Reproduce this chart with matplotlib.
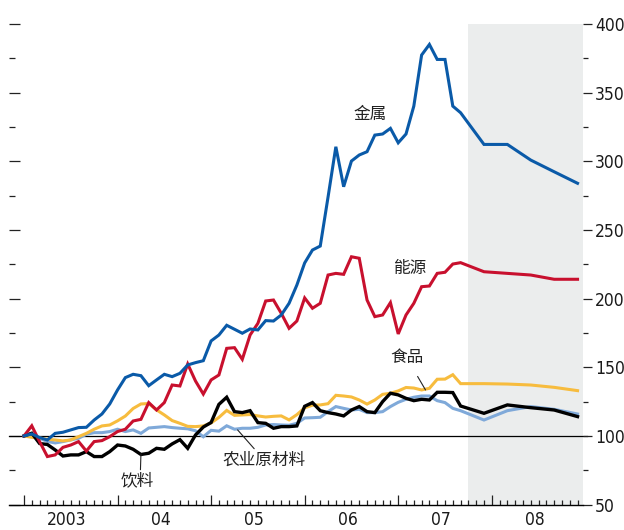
import matplotlib
matplotlib.use("Agg")
import matplotlib.pyplot as plt
from matplotlib import font_manager

# Commodity price indices, January 2003 = 100 (monthly actuals, then quarterly forecasts)
start_month = "2003-01"
forecast_start = "2007-10"
forecast_dates = ["2007-12", "2008-03", "2008-06", "2008-09", "2008-12"]

metals = [100, 101.5, 98.8, 97.1, 101.9, 102.7, 104.4, 106.1, 106.3, 111.6,
          116, 123.3, 133.5, 142.5, 144.9, 143.9, 136.6, 140.8, 144.9, 143.2,
          145.6, 151.7, 153.4, 154.8, 169.2, 173.5, 180.6, 177.7, 174.8, 177.9,
          177.2, 184, 183.7, 188.1, 196.6, 209.9, 226, 235.4, 238.3, 274,
          310.6, 281.5, 300.2, 304.6, 307, 319.1, 319.9, 324, 313.5, 319.9,
          340.2, 377.4, 385.1, 374.2, 374.2, 340.2, 335.4]
metals_fc = [312.3, 312.3, 300.9, 292.4, 284]

energy = [100, 107.4, 95.9, 85, 86.2, 91.7, 93.4, 95.9, 89, 95.9,
          96.6, 99.5, 103.2, 104.9, 110.9, 112.1, 124.3, 118.9, 124.3, 137.1,
          136.4, 152.4, 140, 130.5, 140.8, 144.4, 163.8, 164.3, 155.8, 173.5,
          182, 198.3, 199, 189.3, 178.4, 183.7, 200.5, 193, 196.6, 217.2,
          218.4, 217.7, 230.5, 229.4, 199, 186.9, 188.1, 197.1, 174.3, 188.1,
          196.6, 208.7, 209.2, 218.4, 219.2, 225.2, 226.2]
energy_fc = [219.6, 218.4, 217.2, 214.1, 214.1]

food = [100, 99, 98.5, 97.6, 97.1, 96.4, 97.1, 99.5, 101.9, 104.9,
        107.3, 108, 111, 114.5, 120, 123.3, 123.6, 119, 115.3, 111.2,
        109.2, 107, 106.8, 107.3, 109.5, 113.5, 118.6, 115, 115.3, 115.6,
        114.6, 113.8, 114.3, 114.6, 111.7, 115.5, 120.5, 122.4, 122.6, 123.5,
        129.6, 129.1, 128.4, 126.2, 123.2, 126.2, 130.3, 131.1, 132.8, 135.3,
        134.9, 133.5, 134.7, 141.3, 141.4, 144.6, 138.1]
food_fc = [138.1, 137.8, 137.1, 135.4, 133]

agri = [100, 100.7, 98.3, 96, 94.9, 95.9, 97.1, 98.3, 101.2, 102.4,
        102.4, 103.2, 104.9, 103.2, 104.4, 101.9, 105.8, 106.3, 106.8, 106.1,
        105.6, 105.2, 103.8, 99.4, 104.1, 103.5, 107.4, 104.9, 105.6, 105.6,
        106.3, 108, 108.3, 108, 107.8, 109.2, 113.1, 113.3, 113.6, 117.7,
        121.4, 120.1, 118.9, 119.4, 117, 117, 117.7, 121.4, 124.5, 126.7,
        128.2, 129.1, 129.1, 125.7, 124.3, 120.1, 118.4]
agri_fc = [111.6, 118.4, 121.4, 119.4, 116]

beverages = [100, 102, 94.5, 93.8, 89.8, 85.4, 86.2, 86.2, 88.6, 85,
             85, 88.6, 93.4, 92.7, 90.3, 86.5, 87.4, 91, 90.3, 94.2,
             97.3, 91, 100.7, 106.5, 109.8, 123, 128.2, 117.7, 117, 118.4,
             109.7, 109.2, 105.6, 106.8, 106.8, 107.3, 121.6, 124.3, 118.4, 117,
             116, 114.6, 118.9, 121.4, 117.7, 117, 125, 131.1, 129.9, 127.4,
             125.7, 126.7, 126.2, 131.8, 131.8, 131.6, 121.8]
beverages_fc = [116.5, 122.6, 120.6, 118.9, 114.1]

year_labels = ["2003", "04", "05", "06", "07", "08"]


def month_index(s):
    """Months since January 2003 for a 'YYYY-MM' string."""
    y, m = s.split("-")
    y0, m0 = start_month.split("-")
    return (int(y) - int(y0)) * 12 + int(m) - int(m0)


# numbers in a narrow face if one is installed
num_prop = font_manager.FontProperties(family="Liberation Sans", size=11.5)
for f in font_manager.fontManager.ttflist:
    if f.stretch in ("condensed", "semi-condensed") and f.style == "normal" \
            and f.weight in (400, "normal", "regular") and "Mono" not in f.name \
            and "Serif" not in f.name:
        num_prop = font_manager.FontProperties(fname=f.fname, size=12.5)
        break

cjk = ["Noto Sans CJK SC", "DejaVu Sans"]

x_act = list(range(len(metals)))
x_fc = [month_index(d) for d in forecast_dates]
x_all = x_act + x_fc

fig = plt.figure(figsize=(6.24, 5.30), dpi=100)
ax = fig.add_axes([0.0152, 0.0479, 0.9191, 0.9068])

xmax = 71.7
ax.set_xlim(-1.86, xmax)
ax.set_ylim(50, 400)

ax.axvspan(month_index(forecast_start), xmax, color="#ebeded", lw=0, zorder=0)
ax.axhline(100, xmin=0, xmax=1.007, color="black", lw=0.9, clip_on=False, zorder=1)

series = [
    (agri, agri_fc, "#7fa9d9", 2.2),
    (food, food_fc, "#f7bc3e", 2.2),
    (beverages, beverages_fc, "#000000", 2.4),
    (energy, energy_fc, "#c8102e", 2.2),
    (metals, metals_fc, "#0a5aa8", 2.2),
]
for act, fc, col, lw in series:
    ax.plot(x_all, act + fc, color=col, lw=lw, solid_joinstyle="miter", zorder=3)

# spines
for s in ["left", "right", "top"]:
    ax.spines[s].set_visible(False)
ax.spines["bottom"].set_linewidth(1.0)

# x ticks: years major, months minor, pointing up
ax.set_xticks(range(0, 72), minor=True)
ax.set_xticks(range(0, 72, 12))
ax.tick_params(axis="x", which="major", direction="in", length=7, width=0.9,
               labelbottom=False, color="#222222")
ax.tick_params(axis="x", which="minor", direction="in", length=3.6, width=0.9,
               color="#222222")
for i, lab in enumerate(year_labels):
    ax.annotate(lab, xy=(i * 12 + 5.5, 0), xycoords=("data", "axes fraction"),
                xytext=(0, -15), textcoords="offset points",
                ha="center", va="baseline", color="#1a1a1a",
                fontproperties=num_prop)

# y ticks on the right with labels
ax.yaxis.tick_right()
ax.set_yticks(range(50, 401, 50))
ax.set_yticks(range(75, 400, 50), minor=True)
ax.tick_params(axis="y", which="major", direction="out", length=6.5, width=0.9,
               pad=2, labelcolor="#1a1a1a", color="#222222")
ax.tick_params(axis="y", which="minor", direction="out", length=3.6, width=0.9,
               color="#222222")
for lab in ax.get_yticklabels():
    lab.set_fontproperties(num_prop)

# left side: inward ticks only
sec = ax.secondary_yaxis("left")
sec.set_yticks(range(50, 401, 50))
sec.set_yticks(range(75, 400, 50), minor=True)
sec.tick_params(which="major", direction="in", length=8, width=0.9,
                labelleft=False, color="#222222")
sec.tick_params(which="minor", direction="in", length=4.3, width=0.9,
                color="#222222")
sec.spines["left"].set_visible(False)

# series labels
txt = dict(fontsize=12, color="#222222", family=cjk, ha="center", va="center")
ax.text(44.4, 334.4, "金属", **txt)
ax.text(49.5, 222.3, "能源", **txt)
ax.annotate("食品", xy=(51.5, 133.5), xytext=(49.1, 156.8),
            arrowprops=dict(arrowstyle="-", lw=0.8, color="#222222",
                            shrinkA=6, shrinkB=0), **txt)
ax.annotate("农业原材料", xy=(27.4, 104.4), xytext=(30.8, 82.5),
            arrowprops=dict(arrowstyle="-", lw=0.8, color="#222222",
                            shrinkA=0, shrinkB=0, relpos=(0.41, 1.0)), **txt)
ax.annotate("饮料", xy=(15, 86.9), xytext=(14.5, 67.2),
            arrowprops=dict(arrowstyle="-", lw=0.8, color="#222222",
                            shrinkA=0, shrinkB=0, relpos=(0.6, 1.0)), **txt)

fig.savefig("out.png", dpi=100)
